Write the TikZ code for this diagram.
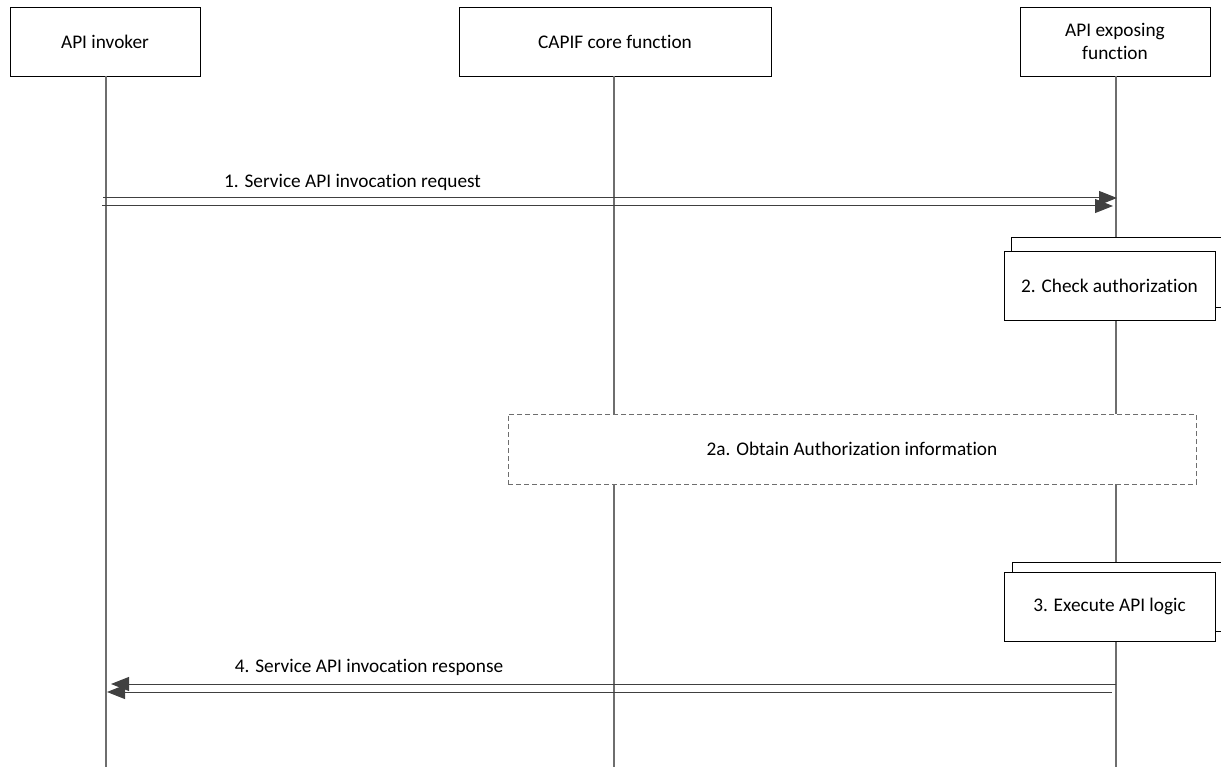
\documentclass[tikz,border=0pt]{standalone}
\usepackage{fontspec}
\setmainfont{Carlito}[Ligatures=NoCommon]
\usetikzlibrary{arrows.meta}
\definecolor{lifegray}{HTML}{6E6E6E}
\definecolor{arrgray}{HTML}{404040}
\begin{document}
\begin{tikzpicture}[x=1pt,y=-1pt,
  font=\fontsize{19.3}{23.5}\selectfont,
  hdr/.style={draw=black, line width=0.9pt, fill=white, inner sep=0pt, align=center, minimum height=69pt},
  actbox/.style={draw=black, line width=0.9pt, fill=white, inner sep=0pt, minimum width=211pt, minimum height=69pt},
  backbox/.style={draw=black, line width=0.9pt, fill=white},
  life/.style={draw=lifegray, line width=1.2pt},
  msg/.style={draw=arrgray, line width=1pt, -{Triangle[length=18pt,width=14pt]}, arrgray},
  dbox/.style={draw=lifegray, line width=1pt, dashed, dash pattern=on 5pt off 3pt, fill=white, inner sep=0pt, minimum width=688pt, minimum height=70pt}
]
\useasboundingbox (0,0) rectangle (1221,767);

% headers
\node[hdr, minimum width=190pt] (inv) at (105,41.5) {API invoker};
\node[hdr, minimum width=312pt] (ccf) at (615,41.5) {CAPIF core function};
\node[hdr, minimum width=190pt] (aef) at (1115,41.5) {API exposing\\function};

% lifeline ends
\coordinate (invT) at (106,76);
\coordinate (invB) at (106,767);
\coordinate (ccfT) at (614,76);
\coordinate (ccfB) at (614,767);
\coordinate (aefT) at (1116,76);
\coordinate (aefB) at (1116,767);
\draw[life] (invT) -- (invB);
\draw[life] (ccfT) -- (ccfB);
\draw[life] (aefT) -- (aefB);

% message 1
\coordinate (m1a) at (103,198);
\coordinate (m1b) at (1117,198);
\coordinate (m1c) at (102,206);
\coordinate (m1d) at (1113,206);
\draw[msg] (m1a) -- (m1b);
\draw[msg] (m1c) -- (m1d);
\node (l1) at (352.5,182) {1. Service API invocation request};

% step 2
\draw[backbox] (1011,237) rectangle (1223,307);
\node[actbox] (s2) at (1109.5,285.5) {2. Check authorization};

% step 2a
\node[dbox] (s2a) at (852,449) {2a. Obtain Authorization information};

% step 3
\draw[backbox] (1012,562) rectangle (1223,631);
\node[actbox] (s3) at (1109.5,606.5) {3. Execute API logic};

% message 4
\coordinate (m4a) at (1116,684);
\coordinate (m4b) at (111,684);
\coordinate (m4c) at (1112,692);
\coordinate (m4d) at (107,692);
\draw[msg] (m4a) -- (m4b);
\draw[msg] (m4c) -- (m4d);
\node (l4) at (369,667) {4. Service API invocation response};
\end{tikzpicture}
\end{document}
